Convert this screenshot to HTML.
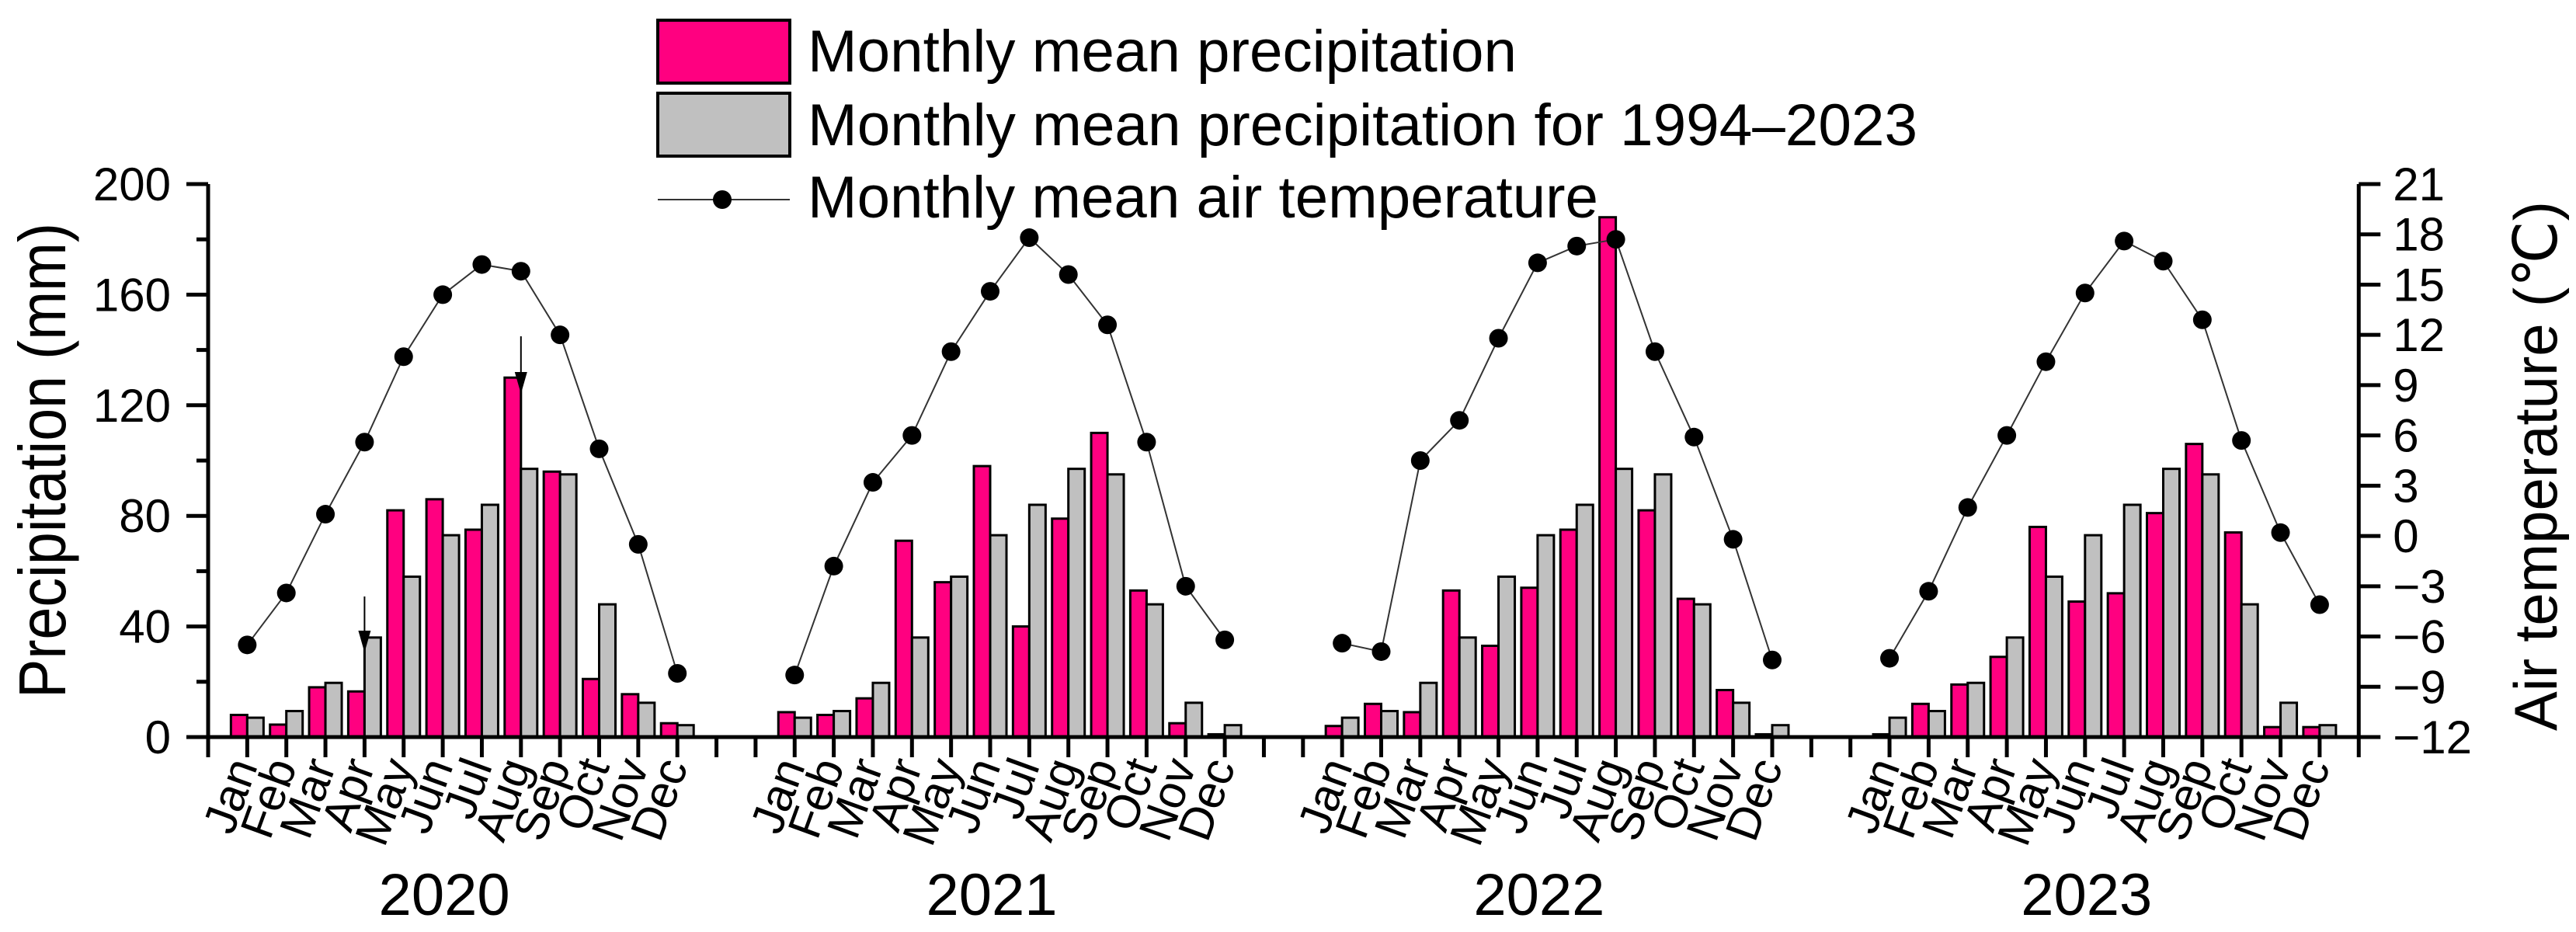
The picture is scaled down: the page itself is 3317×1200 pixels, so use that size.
<!DOCTYPE html>
<html><head><meta charset="utf-8">
<style>
html,body{margin:0;padding:0;background:#fff;}
svg{display:block;font-family:"Liberation Sans",Arial,sans-serif;}
</style></head>
<body>
<svg id="chart" width="3317" height="1200" viewBox="0 0 3317 1200" xmlns="http://www.w3.org/2000/svg">
  <g id="legend">
    <rect x="847" y="26" width="170" height="81" fill="#ff0080" stroke="#000" stroke-width="4"/>
    <text x="1040" y="92" font-size="76" textLength="913" lengthAdjust="spacingAndGlyphs">Monthly mean precipitation</text>
    <rect x="847" y="120" width="170" height="81" fill="#c0c0c0" stroke="#000" stroke-width="4"/>
    <text x="1040" y="187" font-size="76" textLength="1429" lengthAdjust="spacingAndGlyphs">Monthly mean precipitation for 1994–2023</text>
    <line x1="847" y1="257" x2="1017" y2="257" stroke="#333" stroke-width="2"/>
    <circle cx="930" cy="257" r="12" fill="#000"/>
    <text x="1040" y="280" font-size="76" textLength="1018" lengthAdjust="spacingAndGlyphs">Monthly mean air temperature</text>
  </g>
  <g id="plot"></g>
  <text transform="translate(84,593) rotate(-90)" text-anchor="middle" font-size="85" textLength="612" lengthAdjust="spacingAndGlyphs">Precipitation (mm)</text>
  <text transform="translate(3292,600) rotate(-90)" text-anchor="middle" font-size="78" textLength="682" lengthAdjust="spacingAndGlyphs">Air temperature (℃)</text>
</svg>
<script>
const years = ["2020","2021","2022","2023"];
const months = ["Jan","Feb","Mar","Apr","May","Jun","Jul","Aug","Sep","Oct","Nov","Dec"];
const precip2020 = [8,4.5,18,16.5,82,86,75,130,96,21,15.5,5];
const precip2021 = [9,8,14,71,56,98,40,79,110,53,5,1];
const precip2022 = [4,12,9,53,33,54,75,188,82,50,17,1];
const precip2023 = [1,12,19,29,76,49,52,81,106,74,3.6,3.6];
const normalPrecip = [7,9.4,19.6,36,58,73,84,97,95,48,12.4,4.3];
const temp2020 = [-6.5,-3.4,1.3,5.6,10.7,14.4,16.2,15.8,12.0,5.2,-0.5,-8.2];
const temp2021 = [-8.3,-1.8,3.2,6.0,11.0,14.6,17.8,15.6,12.6,5.6,-3.0,-6.2];
const temp2022 = [-6.4,-6.9,4.5,6.9,11.8,16.3,17.3,17.7,11.0,5.9,-0.2,-7.4];
const temp2023 = [-7.3,-3.3,1.7,6.0,10.4,14.5,17.6,16.4,12.9,5.7,0.2,-4.1];
const leftTicks = [0,40,80,120,160,200];
const leftMinor = [20,60,100,140,180];
const rightTicks = [-12,-9,-6,-3,0,3,6,9,12,15,18,21];
const arrowMarks = [[0,3],[0,7]]; // [yearIndex, monthIndex]

const precipByYear = [precip2020,precip2021,precip2022,precip2023];
const tempByYear = [temp2020,temp2021,temp2022,temp2023];

const NS = "http://www.w3.org/2000/svg";
const X0 = 268, SLOT = 50.35, YB = 949, YT = 237;
function xSlot(s){ return X0 + s*SLOT; }
function xMonth(yi, mi){ return xSlot(1 + yi*14 + mi); }
function yP(v){ return YB - v*(YB-YT)/200; }
function yT(t){ return YB - (t+12)*(YB-YT)/33; }
const plot = document.getElementById('plot');
function mk(tag, attrs, parent){
  const e = document.createElementNS(NS, tag);
  for (const k in attrs) e.setAttribute(k, attrs[k]);
  (parent||plot).appendChild(e);
  return e;
}
const BW = 21;
years.forEach((yr, yi) => {
  months.forEach((m, mi) => {
    const cx = xMonth(yi, mi);
    const v = precipByYear[yi][mi];
    const b = mk('rect', {x: cx-BW, y: yP(v), width: BW, height: YB-yP(v), fill:'#ff0080', stroke:'#000', 'stroke-width':3});
    
    
    const n = normalPrecip[mi];
    const g = mk('rect', {x: cx, y: yP(n), width: BW, height: YB-yP(n), fill:'#c0c0c0', stroke:'#000', 'stroke-width':3});
    
    
  });
});
years.forEach((yr, yi) => {
  const pts = tempByYear[yi].map((t, mi) => xMonth(yi, mi) + ',' + yT(t)).join(' ');
  const pl = mk('polyline', {points: pts, fill:'none', stroke:'#333', 'stroke-width':2});
  
  
  tempByYear[yi].forEach((t, mi) => {
    const c = mk('circle', {cx: xMonth(yi, mi), cy: yT(t), r: 12, fill:'#000'});
    
    
  });
});
arrowMarks.forEach(([yi, mi]) => {
  const x = xMonth(yi, mi);
  const top = mi === 3 ? 768 : 433, bot = mi === 3 ? 840 : 507;
  const ln = mk('line', {x1:x, y1:top, x2:x, y2:bot-20, stroke:'#000', 'stroke-width':2});
  
  
  const hd = mk('polygon', {points: (x-8)+','+(bot-28)+' '+(x+8)+','+(bot-28)+' '+x+','+bot, fill:'#000'});
  
  
});
const XR = xSlot(55);
const xa = mk('line', {x1: X0-28, y1: YB, x2: XR, y2: YB, stroke:'#000', 'stroke-width':5});


const ya = mk('line', {x1: X0, y1: YT, x2: X0, y2: YB+26, stroke:'#000', 'stroke-width':5});


const yr2 = mk('line', {x1: XR, y1: YT, x2: XR, y2: YB+26, stroke:'#000', 'stroke-width':5});


leftTicks.forEach(v => {
  const t = mk('line', {x1: X0-28, y1: yP(v), x2: X0, y2: yP(v), stroke:'#000', 'stroke-width':5});
  
  
  const l = mk('text', {x: X0-48, y: yP(v)+21, 'text-anchor':'end', 'font-size':60});
  l.textContent = v;
  
  
});
leftMinor.forEach(v => {
  const t = mk('line', {x1: X0-15, y1: yP(v), x2: X0, y2: yP(v), stroke:'#000', 'stroke-width':5});
  
  
});
rightTicks.forEach(v => {
  const t = mk('line', {x1: XR, y1: yT(v), x2: XR+28, y2: yT(v), stroke:'#000', 'stroke-width':5});
  
  
  const l = mk('text', {x: XR+44, y: yT(v)+21, 'text-anchor':'start', 'font-size':60});
  l.textContent = v < 0 ? '\u2212' + Math.abs(v) : String(v);
  
  
});
for (let s = 1; s <= 54; s++) {
  const t = mk('line', {x1: xSlot(s), y1: YB, x2: xSlot(s), y2: YB+26, stroke:'#000', 'stroke-width':5});
  
  
}
years.forEach((yr, yi) => {
  months.forEach((m, mi) => {
    const x = xMonth(yi, mi) + 14, y = 986;
    const l = mk('text', {x: 0, y: 0, 'text-anchor':'end', 'font-size':60, transform: 'translate(' + x + ',' + y + ') rotate(-70)'});
    l.textContent = m;
    
    
  });
  const yl = mk('text', {x: xMonth(yi, 5) + 2, y: 1178, 'text-anchor':'middle', 'font-size':76});
  yl.textContent = yr;
  
  
});
</script>
</body></html>
